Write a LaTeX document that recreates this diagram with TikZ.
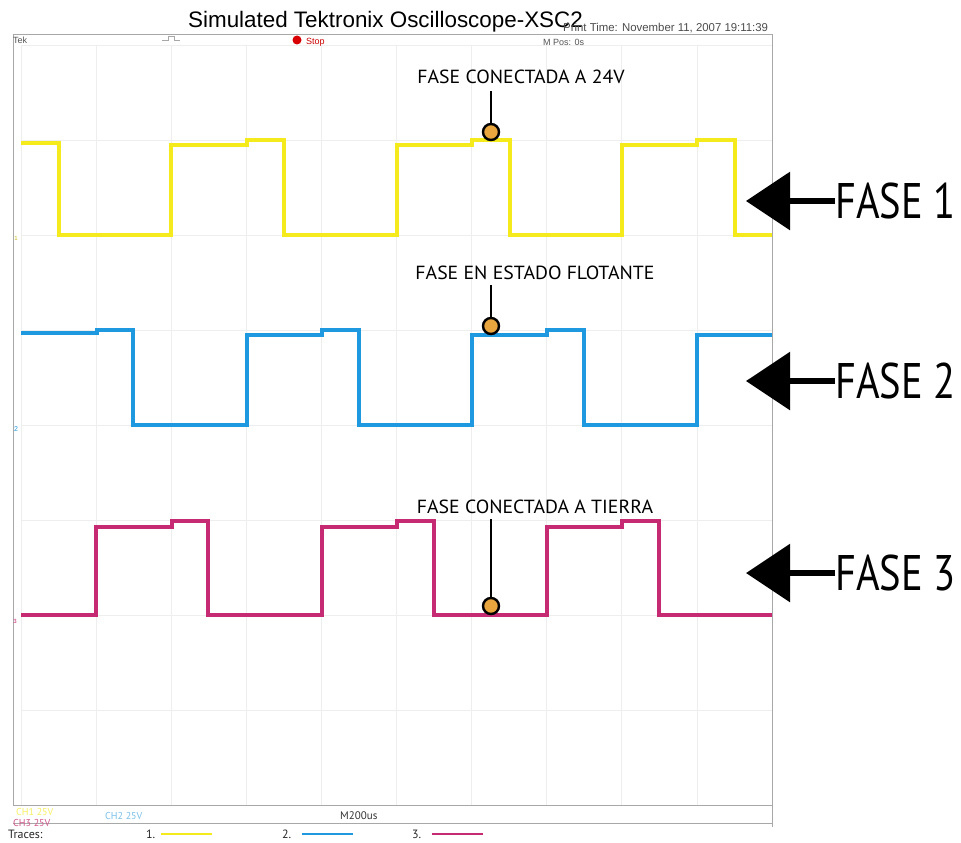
\documentclass[tikz,border=0pt]{standalone}
\usepackage{fontspec}
\setmainfont{Liberation Sans}
\newfontfamily\annfont{PT Sans}
\usetikzlibrary{arrows.meta}
\definecolor{trYellow}{HTML}{F4EA1C}
\definecolor{trBlue}{HTML}{1E98DE}
\definecolor{trMagenta}{HTML}{C62A72}
\definecolor{dotOrange}{HTML}{E9A63E}
\definecolor{gridGray}{HTML}{EEEEEE}
\definecolor{frameGray}{HTML}{A8A8A8}
\definecolor{hdrGray}{HTML}{555555}
\newcommand\narrowtext[2]{\scalebox{#1}[1]{#2}}
\begin{document}
\begin{tikzpicture}[x=1pt,y=-1pt,
  gridline/.style={gridGray,line width=0.8pt},
  frameline/.style={frameGray,line width=0.9pt},
  trace/.style={line width=3.2pt,line join=miter},
  hdr/.style={inner sep=0pt,anchor=base west,text=hdrGray,font=\fontsize{9}{9}\selectfont},
  annlabel/.style={inner sep=0pt,anchor=base,font=\annfont\fontsize{19}{19}\selectfont},
  fase/.style={inner sep=0pt,anchor=west,font=\annfont\fontsize{50}{50}\selectfont},
  marker/.style={circle,draw=black,line width=2.4pt,fill=dotOrange,minimum size=16pt,inner sep=0pt},
  leader/.style={draw=black,line width=2.4pt},
  bigarrow/.style={line width=6pt,-{Triangle[length=44pt,width=57pt]}},
  legline/.style={line width=2.6pt}
]
\useasboundingbox[fill=white] (0,0) rectangle (961,843);

% graticule
\foreach \i in {0,...,10}
  \draw[gridline] ({21+75.1*\i},45) -- ({21+75.1*\i},805);
\foreach \j in {0,...,8}
  \draw[gridline] (21,{45+95*\j}) -- (772,{45+95*\j});

% frame
\draw[frameline] (13,34) -- (772,34) -- (772,827);
\draw[frameline] (13,34) -- (13,805) -- (772,805);
\draw[frameline] (13,823) -- (772,823);

% title and header
\node[inner sep=0pt,anchor=base west] (title) at (188,28)
  {\fontsize{22.4}{22.4}\selectfont Simulated Tektronix Oscilloscope-XSC2};
\node[hdr,text=hdrGray!90!black,font=\fontsize{11.4}{11.4}\selectfont] (ptime) at (563,32)
  {Print Time: November 11, 2007 19:11:39};
\node[hdr] (tek) at (13,44) {Tek};
\draw[frameGray,line width=0.7pt] (162,40) -- (168,40) -- (168,36) -- (174,36) -- (174,40) -- (180,40);
\fill[red!85!black] (297,40) circle (4.5);
\node[hdr,text=red!80!black] (stop) at (306,45) {Stop};
\node[hdr] (mpos) at (543,46) {M Pos: 0s};

% channel ground markers
\node[inner sep=0pt,text=trYellow!80!black,font=\fontsize{6}{6}\selectfont] (m1) at (16,238) {1};
\node[inner sep=0pt,text=trBlue,font=\fontsize{7}{7}\selectfont] (m2) at (16,429) {2};
\node[inner sep=0pt,text=trMagenta,font=\fontsize{6}{6}\selectfont] (m3) at (15,621) {3};

% FASE 1
\draw[trace,trYellow] (21,143) -- (59,143) -- (59,235) -- (171,235) -- (171,145) -- (247,145)
  -- (247,140) -- (284,140) -- (284,235) -- (397,235) -- (397,145) -- (472,145) -- (472,140)
  -- (510,140) -- (510,235) -- (622,235) -- (622,145) -- (697,145) -- (697,140) -- (735,140)
  -- (735,235) -- (772,235);
% FASE 2
\draw[trace,trBlue] (21,333) -- (97,333) -- (97,330) -- (133,330) -- (133,425) -- (247,425)
  -- (247,335) -- (322,335) -- (322,330) -- (359,330) -- (359,425) -- (472,425) -- (472,335)
  -- (547,335) -- (547,330) -- (584,330) -- (584,425) -- (697,425) -- (697,335) -- (772,335);
% FASE 3
\draw[trace,trMagenta] (21,615) -- (96,615) -- (96,527) -- (172,527) -- (172,521) -- (208,521)
  -- (208,615) -- (322,615) -- (322,527) -- (397,527) -- (397,521) -- (434,521) -- (434,615)
  -- (547,615) -- (547,527) -- (622,527) -- (622,521) -- (659,521) -- (659,615) -- (772,615);

% annotations
\node[annlabel] (a1) at (521,84) {\narrowtext{1.04}{FASE CONECTADA A 24V}};
\node[marker] (d1) at (491,132) {};
\draw[leader] (491,91) -- (d1.north);
\node[annlabel] (a2) at (535,279) {\narrowtext{1.04}{FASE EN ESTADO FLOTANTE}};
\node[marker] (d2) at (491,326) {};
\draw[leader] (491,285) -- (d2.north);
\node[annlabel] (a3) at (535,513) {\narrowtext{1.04}{FASE CONECTADA A TIERRA}};
\node[marker] (d3) at (491,606) {};
\draw[leader] (491,519) -- (d3.north);

% phase labels with arrows
\node[fase] (f1) at (835,201) {\narrowtext{0.81}{FASE 1}};
\coordinate (t1) at (746,201);
\draw[bigarrow] (f1.west) -- (t1);
\node[fase] (f2) at (835,381) {\narrowtext{0.81}{FASE 2}};
\coordinate (t2) at (746,381);
\draw[bigarrow] (f2.west) -- (t2);
\node[fase] (f3) at (835,573) {\narrowtext{0.81}{FASE 3}};
\coordinate (t3) at (746,573);
\draw[bigarrow] (f3.west) -- (t3);

% status line
\node[hdr,text=trYellow!70!white,font=\annfont\fontsize{10}{10}\selectfont] (ch1) at (16,815) {CH1 25V};
\node[hdr,text=trMagenta!80,font=\annfont\fontsize{10}{10}\selectfont] (ch3) at (13,826) {CH3 25V};
\node[hdr,text=trBlue!60,font=\annfont\fontsize{10}{10}\selectfont] (ch2) at (105,819) {CH2 25V};
\node[hdr,text=black!80,font=\annfont\fontsize{11}{11}\selectfont] (mtime) at (340,819) {M200us};

% trace legend
\node[hdr,text=black!85,font=\annfont\fontsize{12}{12}\selectfont] (traces) at (8,838) {Traces:};
\node[hdr,text=black!85,font=\annfont\fontsize{12}{12}\selectfont] (l1) at (146,838) {1.};
\coordinate (l1e) at (212,834);
\draw[legline,trYellow] (l1.east |- l1e) ++(5,0) -- (l1e);
\node[hdr,text=black!85,font=\annfont\fontsize{12}{12}\selectfont] (l2) at (282,838) {2.};
\coordinate (l2e) at (353,834);
\draw[legline,trBlue] (l2.east |- l2e) ++(10,0) -- (l2e);
\node[hdr,text=black!85,font=\annfont\fontsize{12}{12}\selectfont] (l3) at (412,838) {3.};
\coordinate (l3e) at (483,834);
\draw[legline,trMagenta] (l3.east |- l3e) ++(10,0) -- (l3e);
\end{tikzpicture}
\end{document}
